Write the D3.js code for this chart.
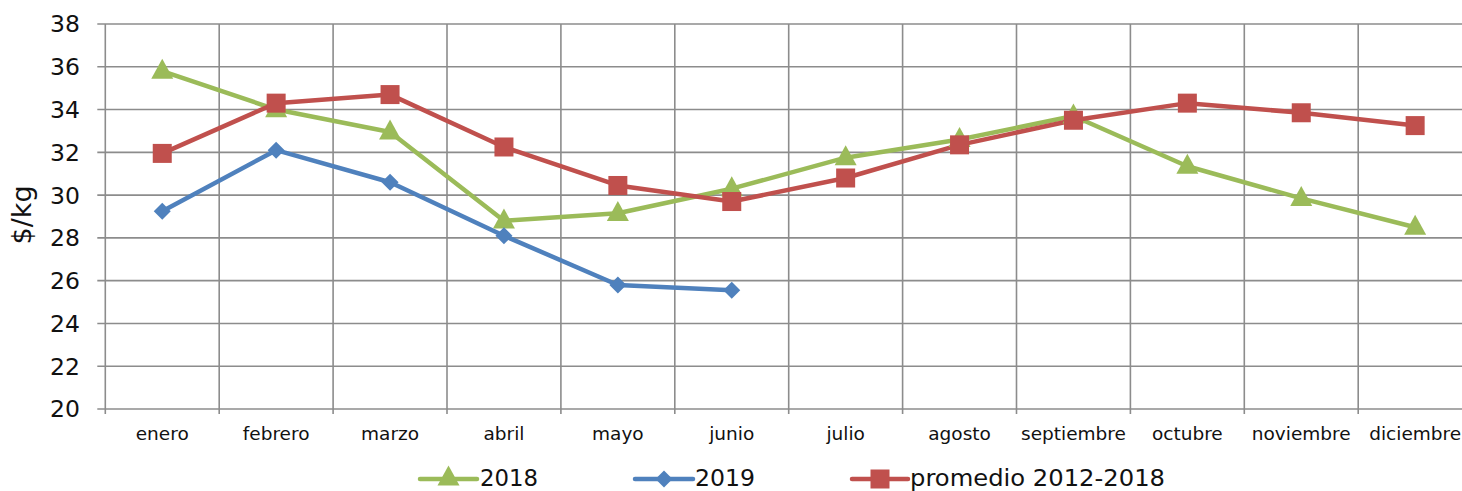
<!DOCTYPE html>
<html><head><meta charset="utf-8">
<script src="https://cdn.jsdelivr.net/npm/d3@7"></script>
<style>body{margin:0;background:#fff;}svg{display:block;font-family:"DejaVu Sans","Noto Sans",sans-serif;}</style>
</head><body>
<svg id="c" width="1462" height="491"></svg>
<script>
const months = ["enero","febrero","marzo","abril","mayo","junio","julio","agosto","septiembre","octubre","noviembre","diciembre"];
const s2018 = [35.8,34.0,32.95,28.8,29.15,30.3,31.75,32.6,33.7,31.35,29.85,28.5];
const s2019 = [29.25,32.1,30.6,28.1,25.8,25.55];
const sProm = [31.95,34.3,34.7,32.25,30.45,29.7,30.8,32.35,33.5,34.3,33.85,33.25];
const yTicks = [20,22,24,26,28,30,32,34,36,38];
const seriesNames = ["2018","2019","promedio 2012-2018"];

const svg = d3.select("#c");
const L = 105.3, R = 105.3 + 12*113.9, T = 24, B = 409;
const x = d3.scaleBand().domain(months).range([L, R]);
const y = d3.scaleLinear().domain([20,38]).range([B, T]);
const grid = "#8c8c8c";

svg.append("g").selectAll("line").data(yTicks).join("line")
  .attr("x1", L-8).attr("x2", 1462).attr("y1", d=>y(d)).attr("y2", d=>y(d))
  .attr("stroke", grid).attr("stroke-width", 1.6);
const bounds = months.map(m=>x(m)).concat([R]);
svg.append("g").selectAll("line").data(bounds).join("line")
  .attr("x1", d=>d).attr("x2", d=>d).attr("y1", T).attr("y2", B+5)
  .attr("stroke", grid).attr("stroke-width", 1.6);

svg.append("g").selectAll("text").data(yTicks).join("text")
  .attr("x", 80).attr("y", d=>y(d)).attr("dy","0.36em").attr("text-anchor","end")
  .attr("font-size", 23.5).attr("fill","#111").text(d=>d);
svg.append("g").selectAll("text").data(months).join("text")
  .attr("x", d=>x(d)+x.bandwidth()/2).attr("y", 440).attr("text-anchor","middle")
  .attr("font-size", 18.5).attr("fill","#111").text(d=>d);
svg.append("text").attr("transform","translate(31,215) rotate(-90)")
  .attr("text-anchor","middle").attr("font-size",27).attr("fill","#111").text("$/kg");

const cx = i => x(months[i]) + x.bandwidth()/2;
const line = d3.line().x((d,i)=>cx(i)).y(d=>y(d));
const colors = ["#9BBB59","#4F81BD","#C0504D"];

function tri(g, px, py, s, c){ g.append("path").attr("d", `M${px},${py-s*0.62}L${px+s*0.55},${py+s*0.38}L${px-s*0.55},${py+s*0.38}Z`).attr("fill",c); }
function dia(g, px, py, s, c){ g.append("path").attr("d", `M${px},${py-s}L${px+s},${py}L${px},${py+s}L${px-s},${py}Z`).attr("fill",c); }
function sq(g, px, py, s, c){ g.append("rect").attr("x",px-s/2).attr("y",py-s/2).attr("width",s).attr("height",s).attr("fill",c); }

const gL = svg.append("g");
[[s2018,0],[s2019,1],[sProm,2]].forEach(([arr,k])=>{
  gL.append("path").datum(arr).attr("d", line).attr("fill","none").attr("stroke",colors[k]).attr("stroke-width",4.5).attr("stroke-linejoin","round");
});
const gM = svg.append("g");
s2018.forEach((v,i)=>tri(gM, cx(i), y(v), 20, colors[0]));
s2019.forEach((v,i)=>dia(gM, cx(i), y(v), 8.5, colors[1]));
sProm.forEach((v,i)=>sq(gM, cx(i), y(v), 19, colors[2]));

const leg = [{x0:420, x1:477, tx:480, tw:58},{x0:635, x1:693, tx:695, tw:60},{x0:852, x1:908, tx:910, tw:255}];
const ly = 479;
leg.forEach((l,k)=>{
  svg.append("line").attr("x1",l.x0).attr("x2",l.x1).attr("y1",ly).attr("y2",ly).attr("stroke",colors[k]).attr("stroke-width",4.5).attr("stroke-linecap","round");
  const mx = (l.x0+l.x1)/2;
  if(k===0) tri(svg, mx, ly-1, 20, colors[0]);
  if(k===1) dia(svg, mx, ly, 8.5, colors[1]);
  if(k===2) sq(svg, mx, ly, 19, colors[2]);
  svg.append("text").attr("x",l.tx).attr("y",486).attr("font-size",22.5)
    .attr("textLength", l.tw).attr("lengthAdjust","spacingAndGlyphs").attr("fill","#111").text(seriesNames[k]);
});
</script>
</body></html>
